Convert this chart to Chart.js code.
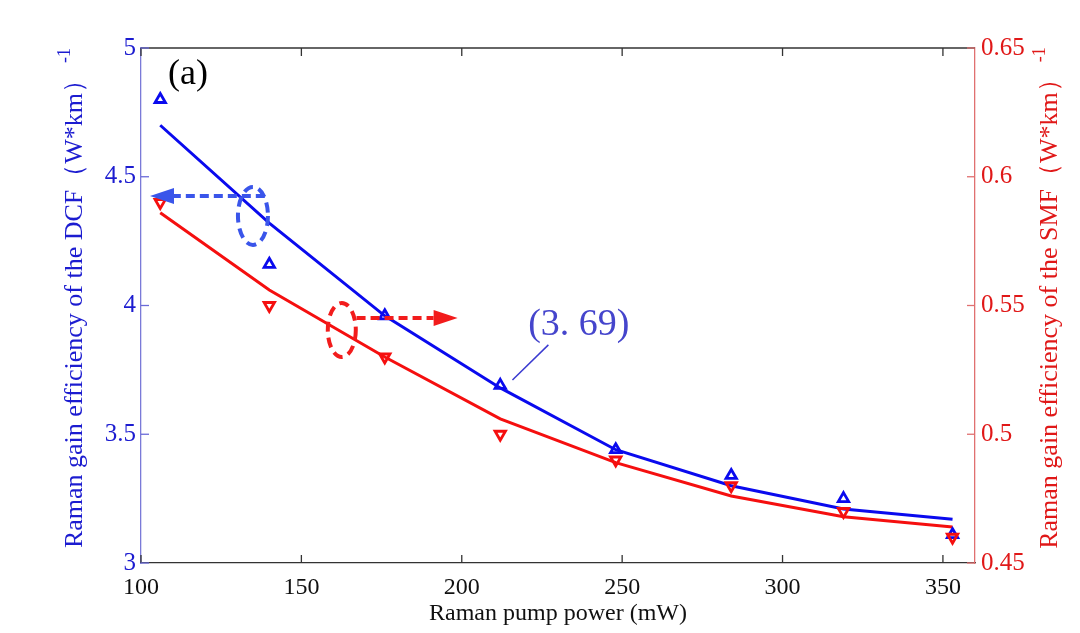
<!DOCTYPE html>
<html>
<head>
<meta charset="utf-8">
<script src="https://cdn.jsdelivr.net/npm/chart.js@4.4.1/dist/chart.umd.min.js"></script>
<style>
  html, body { margin: 0; padding: 0; background: #fff; }
  #wrap { width: 1080px; height: 633px; position: relative; }
</style>
</head>
<body>
<div id="wrap"><canvas id="chartRaman"></canvas></div>
<script>
// data
const powerMW     = [106, 140, 176, 212, 248, 284, 319, 353];
const dcfMeasured = [4.80, 4.16, 3.96, 3.69, 3.44, 3.34, 3.25, 3.11];
const dcfFit      = [4.70, 4.32, 3.96, 3.68, 3.44, 3.30, 3.21, 3.17];
const smfMeasured = [0.59, 0.55, 0.53, 0.50, 0.49, 0.48, 0.47, 0.46];
const smfFit      = [0.586, 0.556, 0.530, 0.506, 0.489, 0.476, 0.468, 0.464];

const xTicks     = [100, 150, 200, 250, 300, 350];
const dcfTicks   = [3, 3.5, 4, 4.5, 5];
const smfTicks   = [0.45, 0.5, 0.55, 0.6, 0.65];

const BLUE = "#0a0aee";
const RED = "#f50f0f";
const SERIF = "'Liberation Serif', 'Times New Roman', serif";

Chart.defaults.font.family = SERIF;
Chart.defaults.animation = false;

const pts = (ys) => powerMW.map((x, i) => ({ x: x, y: ys[i] }));
const plain = v => String(+(+v).toFixed(2));

// axis titles, inner ticks, frame and the hand-drawn annotations
const decorations = {
    id: "decorations",
    afterDatasetsDraw(chart) {
        const ctx = chart.ctx;
        const a = chart.chartArea;
        const sx = chart.scales.x, sy = chart.scales.y, sy2 = chart.scales.y2;
        ctx.save();

        // frame top
        ctx.lineWidth = 1.3;
        ctx.strokeStyle = "#333";
        ctx.beginPath();
        ctx.moveTo(a.left, a.top); ctx.lineTo(a.right, a.top);
        ctx.stroke();

        // inner ticks
        const tl = 8;
        xTicks.forEach(v => {
            const p = sx.getPixelForValue(v);
            ctx.beginPath();
            ctx.moveTo(p, a.bottom); ctx.lineTo(p, a.bottom - tl);
            ctx.moveTo(p, a.top); ctx.lineTo(p, a.top + tl);
            ctx.stroke();
        });
        ctx.strokeStyle = "#6a6ad8";
        dcfTicks.forEach(v => {
            const p = sy.getPixelForValue(v);
            ctx.beginPath(); ctx.moveTo(a.left, p); ctx.lineTo(a.left + tl, p); ctx.stroke();
        });
        ctx.strokeStyle = "#e07070";
        smfTicks.forEach(v => {
            const p = sy2.getPixelForValue(v);
            ctx.beginPath(); ctx.moveTo(a.right, p); ctx.lineTo(a.right - tl, p); ctx.stroke();
        });

        // x title
        ctx.fillStyle = "#111";
        ctx.font = "24px " + SERIF;
        ctx.textAlign = "center";
        ctx.textBaseline = "middle";
        ctx.fillText("Raman pump power (mW)", (a.left + a.right) / 2, 614);

        // rotated y titles
        function yTitle(text, cx, color) {
            ctx.save();
            ctx.translate(cx, (a.top + a.bottom) / 2 + 2);
            ctx.rotate(-Math.PI / 2);
            ctx.fillStyle = color;
            ctx.font = "26px " + SERIF;
            ctx.textAlign = "center";
            ctx.textBaseline = "middle";
            ctx.fillText(text, 0, 0);
            const w = ctx.measureText(text).width;
            ctx.font = "18px " + SERIF;
            ctx.textAlign = "left";
            ctx.fillText("-1", w / 2 + 4, -10);
            ctx.restore();
        }
        yTitle("Raman gain efficiency of the DCF\uFF08W*km\uFF09", 75, "#1c1cd0");
        yTitle("Raman gain efficiency of the SMF\uFF08W*km\uFF09", 1050, "#e01818");

        // (a)
        ctx.fillStyle = "#000";
        ctx.font = "36px " + SERIF;
        ctx.textAlign = "left";
        ctx.textBaseline = "middle";
        ctx.fillText("(a)", 168, 75);

        // dashed arrow + loop helpers
        function dashedArrow(x1, x2, y, color, yScale) {
            const px1 = sx.getPixelForValue(x1), px2 = sx.getPixelForValue(x2);
            const py = yScale.getPixelForValue(y);
            const dir = Math.sign(px2 - px1);
            const head = 24;
            ctx.strokeStyle = color;
            ctx.fillStyle = color;
            ctx.lineWidth = 4;
            ctx.setLineDash([9, 5]);
            ctx.beginPath();
            ctx.moveTo(px1, py); ctx.lineTo(px2 - dir * head, py);
            ctx.stroke();
            ctx.setLineDash([]);
            ctx.beginPath();
            ctx.moveTo(px2, py);
            ctx.lineTo(px2 - dir * head, py - 8);
            ctx.lineTo(px2 - dir * head, py + 8);
            ctx.closePath();
            ctx.fill();
        }
        function dashedLoop(x, y, rx, ry, color, yScale) {
            ctx.strokeStyle = color;
            ctx.lineWidth = 4;
            ctx.setLineDash([10, 6]);
            ctx.beginPath();
            ctx.ellipse(sx.getPixelForValue(x), yScale.getPixelForValue(y), rx, ry, 0, 0, Math.PI * 2);
            ctx.stroke();
            ctx.setLineDash([]);
        }

        dashedLoop(134.9, 4.348, 15, 29, "#3a55ea", sy);
        dashedArrow(138.6, 102.8, 4.425, "#3a55ea", sy);
        dashedLoop(162.6, 3.905, 14, 27, "#f21c1c", sy);
        dashedArrow(167.2, 198.7, 3.951, "#f21c1c", sy);

        // (3.69) callout
        ctx.strokeStyle = "#3a3ad0";
        ctx.lineWidth = 1.5;
        ctx.beginPath();
        ctx.moveTo(sx.getPixelForValue(215.8), sy.getPixelForValue(3.711));
        ctx.lineTo(sx.getPixelForValue(227.0), sy.getPixelForValue(3.847));
        ctx.stroke();
        ctx.fillStyle = "#4545cc";
        ctx.font = "38px " + SERIF;
        ctx.textAlign = "center";
        ctx.fillText("(3. 69)", sx.getPixelForValue(236.5), sy.getPixelForValue(3.924));

        ctx.restore();
    }
};

new Chart(document.getElementById("chartRaman"), {
    type: "line",
    data: {
        datasets: [
            {
                label: "DCF measured",
                data: pts(dcfMeasured),
                yAxisID: "y",
                showLine: false,
                pointStyle: "triangle",
                pointRadius: 6,
                borderWidth: 2.8,
                borderColor: BLUE,
                backgroundColor: "rgba(0,0,0,0)",
                order: 1
            },
            {
                label: "SMF measured",
                data: pts(smfMeasured),
                yAxisID: "y2",
                showLine: false,
                pointStyle: "triangle",
                rotation: 180,
                pointRadius: 6,
                borderWidth: 2.8,
                borderColor: RED,
                backgroundColor: "rgba(0,0,0,0)",
                order: 0
            },
            {
                label: "DCF fit",
                data: pts(dcfFit),
                yAxisID: "y",
                pointRadius: 0,
                borderWidth: 3,
                borderColor: BLUE,
                tension: 0,
                order: 2
            },
            {
                label: "SMF fit",
                data: pts(smfFit),
                yAxisID: "y2",
                pointRadius: 0,
                borderWidth: 3,
                borderColor: RED,
                tension: 0,
                order: 3
            }
        ]
    },
    options: {
        responsive: true,
        maintainAspectRatio: false,
        clip: false,
        layout: { padding: { top: 48, left: 0, right: 0, bottom: 0 } },
        plugins: { legend: { display: false }, tooltip: { enabled: false } },
        scales: {
            x: {
                type: "linear",
                min: 100, max: 360,
                afterBuildTicks: s => { s.ticks = xTicks.map(v => ({ value: v })); },
                afterFit: s => { s.height = 70; },
                grid: { display: false, drawTicks: false },
                border: { color: "#333", width: 1.3 },
                ticks: { color: "#111", font: { size: 24 }, padding: 10, maxRotation: 0, callback: plain }
            },
            y: {
                position: "left",
                min: 3, max: 5,
                afterBuildTicks: s => { s.ticks = dcfTicks.map(v => ({ value: v })); },
                afterFit: s => { s.width = 141; },
                grid: { display: false, drawTicks: false },
                border: { color: "#7a7ad8", width: 1.3 },
                ticks: { color: "#1c1cd0", font: { size: 25 }, padding: 5, callback: plain }
            },
            y2: {
                position: "right",
                min: 0.45, max: 0.65,
                afterBuildTicks: s => { s.ticks = smfTicks.map(v => ({ value: v })); },
                afterFit: s => { s.width = 105; },
                grid: { display: false, drawTicks: false },
                border: { color: "#e07070", width: 1.3 },
                ticks: { color: "#e01818", font: { size: 25 }, padding: 6, callback: plain }
            }
        }
    },
    plugins: [decorations]
});
</script>
</body>
</html>
